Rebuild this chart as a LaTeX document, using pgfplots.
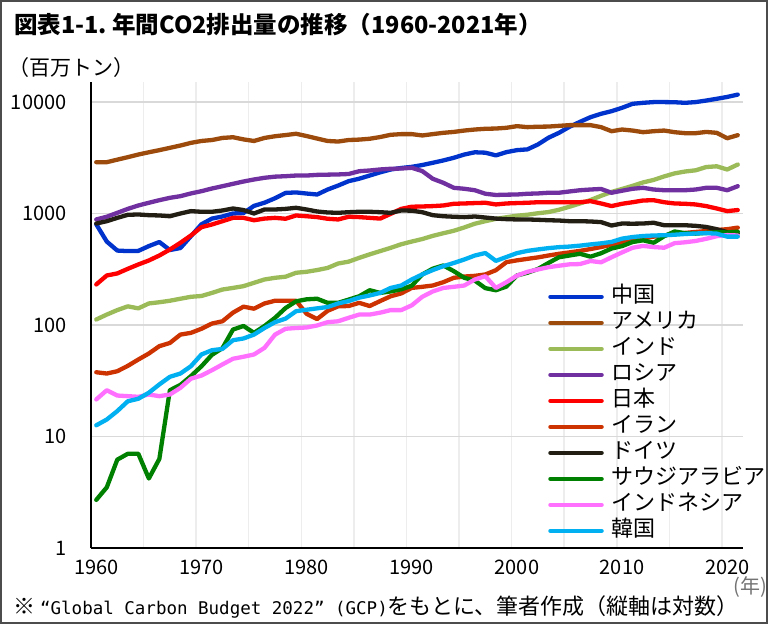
\documentclass[border=0pt]{standalone}
\usepackage{fontspec}
\setmainfont{Noto Sans CJK JP}
\newfontfamily\monofont{DejaVu Sans Mono}
\usepackage{pgfplots}
\usepackage{pgfplotstable}
\pgfplotsset{compat=1.18}
\definecolor{cChina}{HTML}{0033CC}
\definecolor{cUSA}{HTML}{9C4B0C}
\definecolor{cIndia}{HTML}{9BBB59}
\definecolor{cRussia}{HTML}{7030A0}
\definecolor{cJapan}{HTML}{FF0000}
\definecolor{cIran}{HTML}{CC3300}
\definecolor{cGermany}{HTML}{221E14}
\definecolor{cSaudi}{HTML}{008000}
\definecolor{cIndonesia}{HTML}{FF70FF}
\definecolor{cKorea}{HTML}{00B0F0}
\definecolor{gridh}{HTML}{D9D9D9}
\definecolor{gridv}{HTML}{EDEDED}

\pgfplotstableread{
year china usa india russia japan iran germany saudi indonesia korea
1960 800 2885 112 884 231 37.7 813 2.7 21.5 12.6
1961 560 2885 124 935 278 36.7 853 3.5 26 14.2
1962 465 3040 136 1014 290 38.5 914 6.2 23.3 16.9
1963 460 3200 147 1100 319 43 973 7.0 23 20.7
1964 462 3380 141 1180 349 49 980 7.0 22.7 21.8
1965 510 3540 156 1248 379 55.5 966 4.2 23.8 24.7
1966 555 3700 160 1316 420 64.6 960 6.3 23 29.3
1967 470 3880 165 1382 475 69 945 26 23.8 34.3
1968 490 4070 172 1430 546 82 1000 29 27.3 36.7
1969 625 4300 179 1513 635 85 1050 34.8 33 42.7
1970 800 4470 182 1585 754 92.5 1036 42.6 35.2 54.4
1971 900 4560 194 1675 797 103 1036 54 39.3 59.4
1972 940 4760 208 1757 853 108 1064 62 44.3 61
1973 1000 4830 215 1845 914 129 1109 91 49.8 73
1974 1010 4620 223 1936 914 146 1074 98 51.9 75.7
1975 1170 4470 239 2018 870 140 1000 85 54.4 82
1976 1250 4760 256 2090 900 156 1086 98 62.4 94
1977 1370 4930 265 2140 914 165 1086 116 82 106
1978 1530 5050 271 2160 897 165 1100 142 92.5 114
1979 1545 5190 294 2190 960 165 1125 163 94 133
1980 1510 4950 300 2190 945 126 1086 170 95 137
1981 1480 4700 311 2220 928 113 1042 172 99 141
1982 1640 4470 325 2230 897 134 1021 158 106 145
1983 1780 4420 356 2240 884 147 1014 158 108 156
1984 1950 4560 370 2260 935 148 1027 169 116 164
1985 2050 4600 400 2394 928 158 1036 181 124 176
1986 2190 4680 430 2430 914 148 1036 205 124 184
1987 2340 4850 460 2483 900 164 1027 194 129 194
1988 2480 5080 492 2518 993 181 1014 200 136 215
1989 2560 5150 530 2530 1100 192 1064 209 136 226
1990 2620 5150 560 2570 1150 215 1060 225 150 256
1991 2720 5010 590 2400 1156 220 1027 284 179 284
1992 2850 5150 630 2048 1165 226 966 320 200 311
1993 2990 5290 665 1885 1180 242 945 342 215 337
1994 3160 5390 700 1700 1222 265 935 304 220 360
1995 3380 5545 750 1666 1230 272 928 265 226 387
1996 3540 5665 810 1617 1240 276 940 250 256 420
1997 3510 5750 853 1503 1248 284 920 214 274 442
1998 3320 5780 895 1466 1205 310 900 205 215 376
1999 3550 5870 925 1475 1230 366 890 221 242 407
2000 3700 6070 955 1480 1240 380 884 278 277 441
2001 3760 5950 975 1503 1248 392 884 294 300 462
2002 4160 6000 1005 1513 1262 404 878 318 315 476
2003 4780 6020 1030 1535 1262 420 870 360 330 489
2004 5290 6110 1080 1535 1262 435 865 405 340 499
2005 5990 6200 1150 1576 1262 448 853 420 350 505
2006 6640 6200 1230 1617 1262 462 853 435 352 515
2007 7310 6200 1320 1641 1290 480 848 410 375 528
2008 7840 5950 1440 1660 1230 500 837 440 365 540
2009 8270 5470 1560 1535 1165 525 780 485 405 556
2010 8870 5665 1660 1600 1222 553 813 510 448 595
2011 9630 5545 1770 1666 1262 575 810 555 493 615
2012 9830 5360 1900 1700 1308 598 813 575 512 628
2013 9980 5470 2000 1641 1316 620 826 546 500 635
2014 9980 5545 2150 1617 1262 636 785 625 493 638
2015 9950 5360 2290 1617 1230 655 785 690 542 645
2016 9830 5250 2380 1617 1222 670 785 665 552 655
2017 9980 5250 2440 1641 1205 683 775 660 567 662
2018 10300 5390 2610 1700 1165 697 757 670 593 667
2019 10680 5290 2650 1700 1109 712 723 680 626 660
2020 11100 4730 2480 1617 1050 723 680 676 640 620
2021 11650 5040 2750 1757 1074 747 665 687 635 620
}\emissions

\begin{document}
\begin{tikzpicture}[x=1bp,y=1bp]
\useasboundingbox (0,0) rectangle (768,624);
\draw[line width=2bp, color=black!70] (1,1) rectangle (767,623);
\node[anchor=west, inner sep=0pt, font=\fontsize{23.5bp}{27bp}\selectfont\bfseries] at (14,599) {図表1-1.\ 年間CO2排出量の推移（1960-2021年）};
\node[anchor=west, inner sep=0pt, font=\fontsize{21bp}{25bp}\selectfont] at (8,556) {（百万トン）};
\node[anchor=east, inner sep=0pt, text=black!55, font=\fontsize{20bp}{24bp}\selectfont] at (767,37) {(年)};
\node[anchor=west, inner sep=0pt, font=\fontsize{22bp}{26bp}\selectfont] at (13,17) {※ {\monofont\fontsize{17.5bp}{22bp}\selectfont “Global Carbon Budget 2022” (GCP)}をもとに、筆者作成（縦軸は対数）};
\begin{axis}[
  at={(91bp,76bp)}, anchor=south west,
  width=652bp, height=465.5bp, scale only axis,
  xmin=1959.5, xmax=2021.5,
  ymode=log, ymin=1, ymax=14960,
  axis x line*=bottom, axis y line*=left,
  axis line style={line width=1.8bp, black, -},
  xtick={1960,1970,1980,1990,2000,2010,2020},
  xticklabels={1960,1970,1980,1990,2000,2010,2020},
  minor xtick={1964.5,1969.5,...,2019.5},
  xminorgrids,
  ytick={1,10,100,1000,10000},
  yticklabels={1,10,100,1000,10000},
  ymajorgrids,
  major grid style={draw=gridh, line width=1.6bp},
  minor grid style={draw=gridv, line width=1.5bp},
  major tick length=0pt, minor tick length=0pt,
  /pgf/number format/assume math mode=true,
  xticklabel style={font=\fontsize{20bp}{24bp}\selectfont, yshift=-8bp},
  yticklabel style={font=\fontsize{20bp}{24bp}\selectfont, xshift=-21bp},
  every axis plot/.append style={line width=4.3bp, line join=round, line cap=round},
  legend cell align=left,
  legend image code/.code={\draw[#1, line width=4.5bp, line cap=round] (0bp,0bp) -- (51bp,0bp);},
  legend style={at={(rel axis cs:0.701,0.5636)}, anchor=north west, draw=none, fill=none,
    font=\fontsize{22bp}{26bp}\selectfont, row sep=4bp, inner sep=0pt,
    nodes={inner sep=0pt, text height=17bp, text depth=5bp},
    /tikz/every odd column/.style={column sep=8bp}},
]
\addplot[cChina] table[x=year, y=china] {\emissions};
\addlegendentry{中国}
\addplot[cUSA] table[x=year, y=usa] {\emissions};
\addlegendentry{アメリカ}
\addplot[cIndia] table[x=year, y=india] {\emissions};
\addlegendentry{インド}
\addplot[cRussia] table[x=year, y=russia] {\emissions};
\addlegendentry{ロシア}
\addplot[cJapan] table[x=year, y=japan] {\emissions};
\addlegendentry{日本}
\addplot[cIran] table[x=year, y=iran] {\emissions};
\addlegendentry{イラン}
\addplot[cGermany] table[x=year, y=germany] {\emissions};
\addlegendentry{ドイツ}
\addplot[cSaudi] table[x=year, y=saudi] {\emissions};
\addlegendentry{サウジアラビア}
\addplot[cIndonesia] table[x=year, y=indonesia] {\emissions};
\addlegendentry{インドネシア}
\addplot[cKorea] table[x=year, y=korea] {\emissions};
\addlegendentry{韓国}
\end{axis}
\end{tikzpicture}
\end{document}
